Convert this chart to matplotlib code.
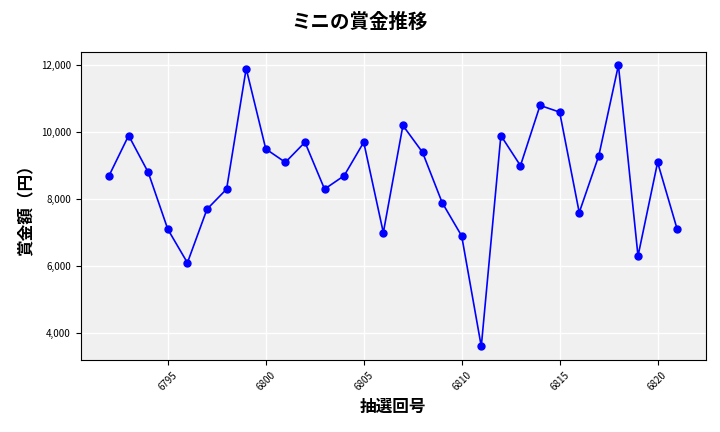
import matplotlib
matplotlib.use("Agg")
import matplotlib.pyplot as plt
from matplotlib.ticker import FuncFormatter

plt.rcParams['font.family'] = ['Noto Sans CJK JP', 'DejaVu Sans']

draws = list(range(6792, 6822))
prizes = [8700, 9900, 8800, 7100, 6100, 7700, 8300, 11900, 9500, 9100,
          9700, 8300, 8700, 9700, 7000, 10200, 9400, 7900, 6900, 3600,
          9900, 9000, 10800, 10600, 7600, 9300, 12000, 6300, 9100, 7100]

fig = plt.figure(figsize=(7.2, 4.32), dpi=100)
ax = fig.add_axes([0.112, 0.167, 0.868, 0.713])
ax.set_facecolor('#f0f0f0')
ax.grid(True, color='white', linewidth=1)
ax.set_axisbelow(True)
ax.plot(draws, prizes, color='blue', marker='o', markersize=5, linewidth=1.2)
ax.set_xticks([6795, 6800, 6805, 6810, 6815, 6820])
ax.tick_params(axis='x', labelrotation=45, labelsize=7)
ax.tick_params(axis='y', labelsize=7)
ax.yaxis.set_major_formatter(FuncFormatter(lambda v, p: f'{int(v):,}'))
ax.set_yticks([4000, 6000, 8000, 10000, 12000])
ax.set_ylim(3200, 12400)
ax.set_xlabel('抽選回号', fontsize=12, fontweight='bold')
ax.set_ylabel('賞金額（円）', fontsize=12, fontweight='bold')
fig.suptitle('ミニの賞金推移', fontsize=14, fontweight='bold', y=0.97)
fig.savefig('out.png', dpi=100)
